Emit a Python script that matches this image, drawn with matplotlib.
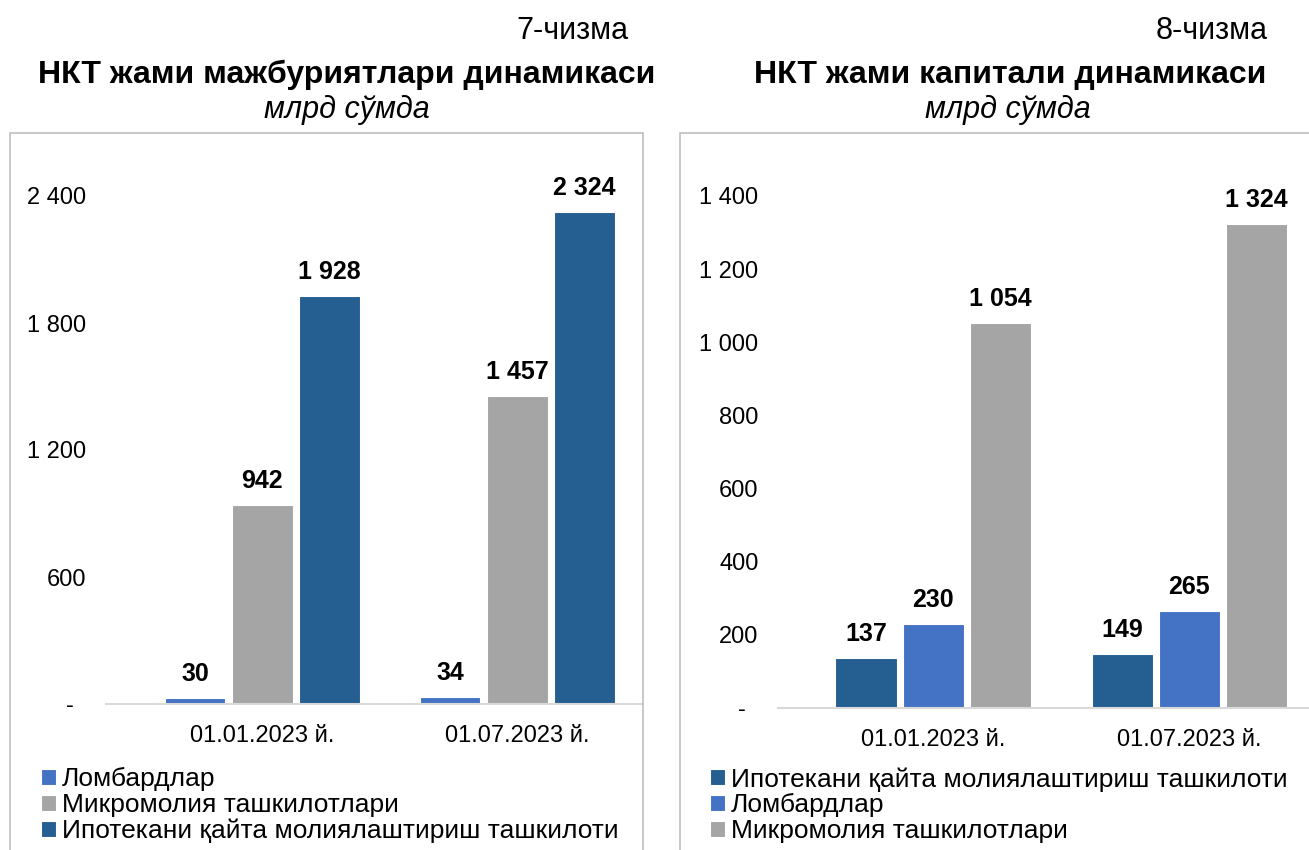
import numpy as np
import matplotlib.pyplot as plt
from matplotlib.patches import Rectangle

plt.rcParams['font.family'] = ['Liberation Sans', 'DejaVu Sans']

# Data
categories = ['01.01.2023 й.', '01.07.2023 й.']

left_series = ['Ломбардлар', 'Микромолия ташкилотлари', 'Ипотекани қайта молиялаштириш ташкилоти']
left_values = [[30, 34], [942, 1457], [1928, 2324]]
left_colors = ['#4472C4', '#A5A5A5', '#255E91']
left_ticks = [0, 600, 1200, 1800, 2400]

right_series = ['Ипотекани қайта молиялаштириш ташкилоти', 'Ломбардлар', 'Микромолия ташкилотлари']
right_values = [[137, 149], [230, 265], [1054, 1324]]
right_colors = ['#255E91', '#4472C4', '#A5A5A5']
right_ticks = [0, 200, 400, 600, 800, 1000, 1200, 1400]

W, H = 1309, 850
fig = plt.figure(figsize=(W / 100, H / 100), dpi=100)


def px(x0, y0, x1, y1):
    # pixel box (top-left origin) -> figure fraction rect
    return [x0 / W, 1 - y1 / H, (x1 - x0) / W, (y1 - y0) / H]


def fmt(v):
    if v == 0:
        return '-  '
    return f'{v:,}'.replace(',', ' ')


def draw_panel(rect, series, values, colors, ticks, ylim, xlim):
    ax = fig.add_axes(rect)
    x = np.arange(len(categories))
    width = 0.239
    step = 0.263
    for i, (name, vals, col) in enumerate(zip(series, values, colors)):
        pos = x + (i - 1) * step
        ax.bar(pos, vals, width, color=col, edgecolor='white', linewidth=0.8, label=name)
        for p, v in zip(pos, vals):
            ax.annotate(fmt(v), (p, v), xytext=(0, 12), textcoords='offset points',
                        ha='center', va='baseline', fontsize=18, fontweight='bold')
    ax.set_xlim(*xlim)
    ax.set_ylim(*ylim)
    ax.set_yticks(ticks)
    ax.set_yticklabels([fmt(t) for t in ticks], fontsize=17)
    ax.set_xticks(x)
    ax.set_xticklabels(categories, fontsize=17)
    ax.tick_params(axis='y', length=0, pad=14)
    ax.tick_params(axis='x', length=0, pad=15)
    for s in ['top', 'right', 'left']:
        ax.spines[s].set_visible(False)
    ax.spines['bottom'].set_color('#D9D9D9')
    ax.spines['bottom'].set_linewidth(1.5)
    ax.patch.set_alpha(0)
    return ax


# Frames
fig.patches.append(Rectangle((10 / W, -0.01), (643 - 10) / W, 1 - 133 / H + 0.01,
                             transform=fig.transFigure, fill=False, edgecolor='#BFBFBF', linewidth=1.2))
fig.patches.append(Rectangle((680 / W, -0.01), (1320 - 680) / W, 1 - 133 / H + 0.01,
                             transform=fig.transFigure, fill=False, edgecolor='#BFBFBF', linewidth=1.2))

axl = draw_panel(px(106, 140, 643, 704), left_series, left_values, left_colors,
                 left_ticks, (0, 564 * 600 / 127), (-0.612, 1.494))
axr = draw_panel(px(778, 140, 1309, 708), right_series, right_values, right_colors,
                 right_ticks, (0, 568 * 1400 / 512), (-0.607, 1.467))

# Titles
fig.text(628 / W, 1 - 31 / H, '7-чизма', ha='right', va='center', fontsize=22)
fig.text(347 / W, 1 - 75 / H, 'НКТ жами мажбуриятлари динамикаси', ha='center', va='center',
         fontsize=23, fontweight='bold')
fig.text(347 / W, 1 - 110 / H, 'млрд сўмда', ha='center', va='center', fontsize=22, style='italic')

fig.text(1268 / W, 1 - 31 / H, '8-чизма', ha='right', va='center', fontsize=22)
fig.text(1010 / W, 1 - 75 / H, 'НКТ жами капитали динамикаси', ha='center', va='center',
         fontsize=23, fontweight='bold')
fig.text(1008 / W, 1 - 110 / H, 'млрд сўмда', ha='center', va='center', fontsize=22, style='italic')

# Legends
for ax, x0 in [(axl, 41), (axr, 710)]:
    h, l = ax.get_legend_handles_labels()
    fig.legend(h, l, loc='upper left', bbox_to_anchor=(x0 / W, 1 - 767 / H), frameon=False,
               fontsize=19, handlelength=0.55, handleheight=0.55, handletextpad=0.25,
               labelspacing=0.07, borderpad=0, borderaxespad=0)

fig.savefig('out.png', dpi=100)
